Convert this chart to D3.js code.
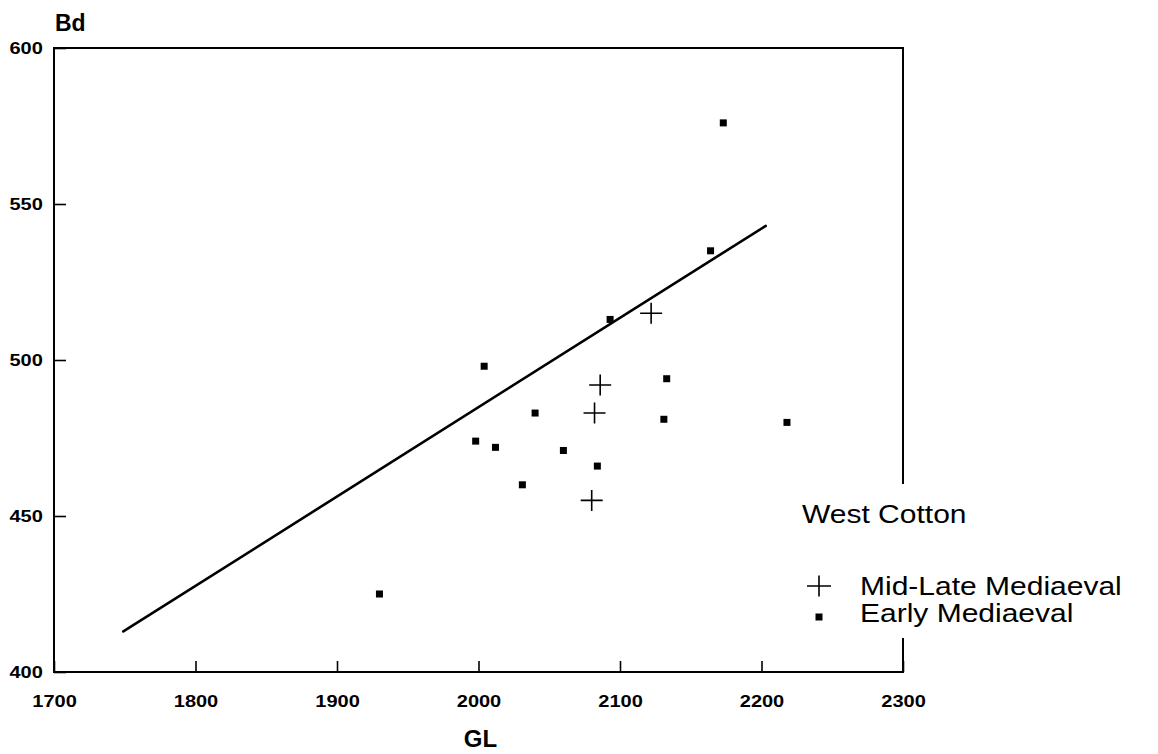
<!DOCTYPE html>
<html>
<head>
<meta charset="utf-8">
<script src="https://cdn.jsdelivr.net/npm/d3@7"></script>
<style>
  html, body { margin: 0; padding: 0; background: #fff; }
  svg { display: block; }
</style>
</head>
<body>
<svg id="chart" width="1158" height="754"></svg>
<script>
// Greatest length (GL) against distal breadth (Bd), West Cotton
const earlyGL = [2173, 2164, 2093, 2004, 2133, 2040, 2131, 2218, 1998, 2012, 2060, 2084, 2031, 1930];
const earlyBd = [576, 535, 513, 498, 494, 483, 481, 480, 474, 472, 471, 466, 460, 425];
const lateGL = [2122, 2086, 2082, 2080];
const lateBd = [515, 492, 483, 455];
// fitted regression line, end points
const fitGL = [1749, 2203];
const fitBd = [413, 543];

const xTicks = [1700, 1800, 1900, 2000, 2100, 2200, 2300];
const yTicks = [400, 450, 500, 550, 600];
const legendTitle = "West Cotton";
const seriesNames = ["Mid-Late Mediaeval", "Early Mediaeval"];

(function () {
  const svg = d3.select("#chart");
  const mLeft = 54, mRight = 903, mTop = 48, mBottom = 672;
  const x = d3.scaleLinear().domain([1700, 2300]).range([mLeft, mRight]);
  const y = d3.scaleLinear().domain([400, 600]).range([mBottom, mTop]);
  const font = "'Liberation Sans', Arial, Helvetica, sans-serif";
  const stretch = 1.25;
  const legendStretch = 1.2;

  // axes with inward ticks
  const gx = svg.append("g").attr("transform", `translate(0,${mBottom})`)
    .call(d3.axisBottom(x).tickValues(xTicks).tickSize(-11).tickFormat(d3.format("d")));
  gx.select(".domain").remove();
  gx.selectAll(".tick line").attr("stroke", "#000").attr("stroke-width", 1.6);
  gx.selectAll(".tick text")
    .attr("y", 35).attr("dy", 0)
    .attr("transform", `scale(${stretch},1)`)
    .attr("font-family", font).attr("font-weight", "bold").attr("font-size", 16).attr("fill", "#000");

  const gy = svg.append("g").attr("transform", `translate(${mLeft},0)`)
    .call(d3.axisLeft(y).tickValues(yTicks).tickSize(-12).tickFormat(d3.format("d")));
  gy.select(".domain").remove();
  gy.selectAll(".tick line").attr("stroke", "#000").attr("stroke-width", 1.6);
  gy.selectAll(".tick text")
    .attr("x", -9).attr("dy", "0.35em")
    .attr("transform", `scale(${stretch},1)`)
    .attr("font-family", font).attr("font-weight", "bold").attr("font-size", 16).attr("fill", "#000");

  // frame, open on the right where the legend sits
  svg.append("path")
    .attr("d", `M${mLeft},${mTop}H${mRight}V483M${mRight},639V${mBottom}H${mLeft}V${mTop}`)
    .attr("fill", "none").attr("stroke", "#000").attr("stroke-width", 2).attr("stroke-linecap", "square");

  // axis titles
  svg.append("text").attr("x", 55).attr("y", 31)
    .attr("font-family", font).attr("font-weight", "bold").attr("font-size", 23).text("Bd");
  svg.append("text").attr("x", (mLeft + mRight) / 2 + 2).attr("y", 747).attr("text-anchor", "middle")
    .attr("font-family", font).attr("font-weight", "bold").attr("font-size", 24).text("GL");

  // regression line
  const fit = fitGL.map((g, i) => [x(g), y(fitBd[i])]);
  svg.append("path").attr("d", d3.line()(fit))
    .attr("fill", "none").attr("stroke", "#000").attr("stroke-width", 2.6).attr("stroke-linecap", "round");

  // early mediaeval: filled squares
  const sq = 7;
  svg.append("g").selectAll("rect").data(earlyGL.map((g, i) => [g, earlyBd[i]])).join("rect")
    .attr("x", d => x(d[0]) - sq / 2).attr("y", d => y(d[1]) - sq / 2)
    .attr("width", sq).attr("height", sq).attr("fill", "#000");

  // mid-late mediaeval: plus signs
  function plusPath(cx, cy, w, h) {
    return `M${cx - w / 2},${cy}H${cx + w / 2}M${cx},${cy - h / 2}V${cy + h / 2}`;
  }
  svg.append("g").selectAll("path").data(lateGL.map((g, i) => [g, lateBd[i]])).join("path")
    .attr("d", d => plusPath(x(d[0]), y(d[1]), 22, 21))
    .attr("stroke", "#000").attr("stroke-width", 1.6).attr("fill", "none");

  // legend
  const lg = svg.append("g");
  lg.append("text").attr("transform", `translate(802,523) scale(${legendStretch},1)`)
    .attr("font-family", font).attr("font-size", 25).text(legendTitle);
  lg.append("path").attr("d", plusPath(819, 586, 24, 21))
    .attr("stroke", "#000").attr("stroke-width", 1.6).attr("fill", "none");
  lg.append("text").attr("transform", `translate(860,595) scale(${legendStretch},1)`)
    .attr("font-family", font).attr("font-size", 25).text(seriesNames[0]);
  lg.append("rect").attr("x", 819 - sq / 2).attr("y", 617 - sq / 2).attr("width", sq).attr("height", sq).attr("fill", "#000");
  lg.append("text").attr("transform", `translate(860,622) scale(${legendStretch},1)`)
    .attr("font-family", font).attr("font-size", 25).text(seriesNames[1]);
})();
</script>
</body>
</html>
